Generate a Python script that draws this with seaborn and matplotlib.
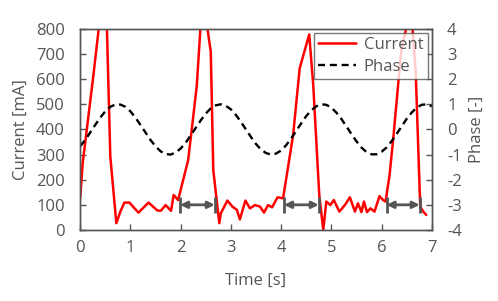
import numpy as np
import pandas as pd
import matplotlib
matplotlib.use("Agg")
import matplotlib.pyplot as plt
import seaborn as sns

# current samples (spike tops are clipped at 800)
time_cur = [0.0, 0.05, 0.26, 0.38, 0.46, 0.53, 0.60, 0.72, 0.80, 0.88, 0.98,
            1.16, 1.36, 1.54, 1.61, 1.70, 1.81, 1.86, 1.95, 2.15, 2.32, 2.40,
            2.46, 2.52, 2.60, 2.65, 2.77, 2.80, 2.93, 3.03, 3.12, 3.18, 3.29,
            3.38, 3.48, 3.58, 3.66, 3.74, 3.82, 3.93, 4.04, 4.24, 4.37, 4.56,
            4.64, 4.76, 4.84, 4.90, 4.98, 5.05, 5.16, 5.27, 5.37, 5.47, 5.53,
            5.60, 5.65, 5.71, 5.78, 5.86, 5.96, 6.03, 6.08, 6.16, 6.24, 6.39,
            6.51, 6.56, 6.61, 6.68, 6.77, 6.83, 6.89]
current = [126, 266, 610, 820, 1050, 820, 292, 27, 73, 109, 109,
           69, 109, 77, 77, 99, 76, 139, 119, 278, 570, 820,
           1000, 820, 709, 239, 27, 66, 117, 93, 80, 42, 117,
           86, 99, 93, 69, 99, 90, 130, 126, 378, 643, 778,
           577, 139, 0, 113, 99, 119, 73, 99, 130, 73, 106,
           71, 113, 71, 86, 73, 135, 119, 113, 219, 378, 709,
           820, 860, 820, 630, 93, 73, 60]

# phase curve
time_phase = [round(0.1 * i, 1) for i in range(71)]
phase = [-0.67, -0.42, -0.12, 0.18, 0.47, 0.72, 0.90, 0.99, 0.99, 0.90,
         0.72, 0.47, 0.18, -0.12, -0.42, -0.67, -0.87, -0.98, -1.00, -0.92,
         -0.76, -0.53, -0.24, 0.06, 0.36, 0.63, 0.84, 0.96, 1.00, 0.94,
         0.80, 0.58, 0.30, 0.00, -0.30, -0.58, -0.80, -0.94, -1.00, -0.96,
         -0.84, -0.63, -0.36, -0.06, 0.24, 0.53, 0.76, 0.92, 1.00, 0.98,
         0.87, 0.67, 0.42, 0.12, -0.18, -0.47, -0.72, -0.90, -0.99, -0.99,
         -0.89, -0.72, -0.47, -0.18, 0.12, 0.42, 0.67, 0.87, 0.98, 1.00, 0.92]

# double arrows marking the off periods
arrow_start = [1.99, 4.06, 6.10]
arrow_end = [2.68, 4.75, 6.76]
arrow_level = 100

grey = "#555555"
sns.set_style("white")
plt.rcParams["font.family"] = ["Open Sans", "DejaVu Sans"]
plt.rcParams["font.size"] = 12
plt.rcParams["axes.unicode_minus"] = False

df_cur = pd.DataFrame({"t": time_cur, "I": current})
df_ph = pd.DataFrame({"t": time_phase, "p": phase})

fig = plt.figure(figsize=(4.98, 3.01), dpi=100)
ax = fig.add_axes([0.161, 0.236, 0.706, 0.668])
ax2 = ax.twinx()

sns.lineplot(data=df_cur, x="t", y="I", ax=ax, color="red", lw=1.8, label="Current", legend=False)
sns.lineplot(data=df_ph, x="t", y="p", ax=ax2, color="black", lw=1.7, linestyle=(0, (3, 2)),
             label="Phase", legend=False)

for t0, t1 in zip(arrow_start, arrow_end):
    ax.annotate("", xy=(t1, arrow_level), xytext=(t0, arrow_level),
                arrowprops=dict(arrowstyle="<|-|>", color=grey, lw=2, mutation_scale=10,
                                shrinkA=0, shrinkB=0))
    ax.vlines([t0, t1], arrow_level - 33, arrow_level + 33, color=grey, lw=2)

ax.set_xlim(0, 7)
ax.set_ylim(0, 800)
ax2.set_ylim(-4, 4)
ax.set_xticks(range(0, 8))
ax.set_yticks(range(0, 801, 100))
ax2.set_yticks(range(-4, 5))

ax.set_xlabel("Time [s]", color=grey, labelpad=12)
ax.set_ylabel("Current [mA]", color=grey, labelpad=5)
ax2.set_ylabel("Phase [-]", color=grey, labelpad=5)

for a in (ax, ax2):
    for s in a.spines.values():
        s.set_color(grey)
        s.set_linewidth(1)
    a.tick_params(colors=grey, labelcolor=grey, direction="in", length=4, width=1)
ax.tick_params(axis="y", left=True, right=False, pad=11)
ax.tick_params(axis="x", bottom=True, pad=7)
ax2.tick_params(axis="y", right=True, pad=11)

h1, l1 = ax.get_legend_handles_labels()
h2, l2 = ax2.get_legend_handles_labels()
leg = ax2.legend(h1 + h2, l1 + l2, loc="upper right", fancybox=False, edgecolor=grey,
                 borderaxespad=0.25, handlelength=2.3, borderpad=0.25, labelspacing=0.35,
                 handletextpad=0.45)
for txt in leg.get_texts():
    txt.set_color(grey)
leg.get_frame().set_linewidth(1)

fig.savefig("out.png", dpi=100)
